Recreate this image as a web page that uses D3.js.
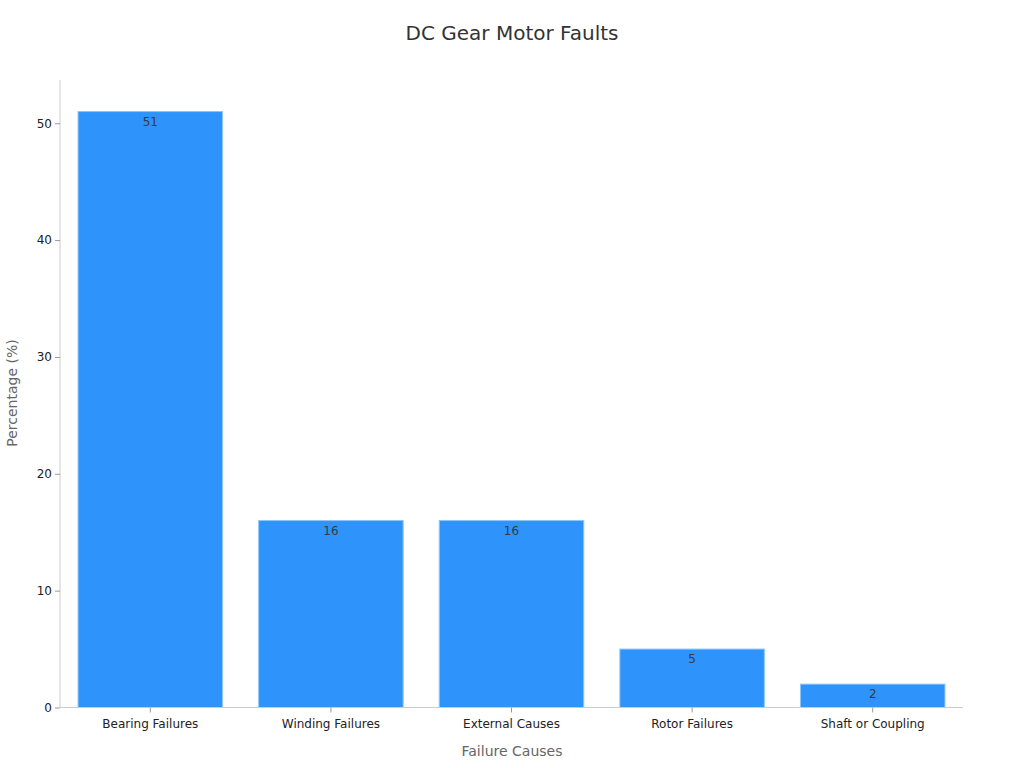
<!DOCTYPE html>
<html><head><meta charset="utf-8">
<script src="https://cdn.jsdelivr.net/npm/d3@7"></script>
<style>body{margin:0;background:#fff;font-family:"DejaVu Sans",sans-serif;}</style>
</head><body><svg id="c" width="1024" height="768"></svg>
<script>
const categories = ["Bearing Failures","Winding Failures","External Causes","Rotor Failures","Shaft or Coupling"];
const values = [51,16,16,5,2];
const yTicks = [0,10,20,30,40,50];

const svg = d3.select("#c");
const m = {left:60, right:963, top:80, bottom:707.5};
const x = d3.scaleBand().domain(categories).range([m.left,m.right]).paddingInner(0.2).paddingOuter(0.1);
const y = d3.scaleLinear().domain([0,53.7]).range([m.bottom,m.top]);

svg.append("text").attr("x",512).attr("y",40).attr("text-anchor","middle")
  .attr("font-size",20).attr("fill","#333").text("DC Gear Motor Faults");

// bars
svg.selectAll("rect.bar").data(values).join("rect").attr("class","bar")
  .attr("x",(d,i)=>x(categories[i])).attr("width",x.bandwidth())
  .attr("y",d=>y(d)).attr("height",d=>y(0)-y(d))
  .attr("fill","#2E93FA").attr("stroke","#8cc4fb").attr("stroke-width",1);

svg.selectAll("text.val").data(values).join("text").attr("class","val")
  .attr("x",(d,i)=>x(categories[i])+x.bandwidth()/2).attr("y",d=>y(d)+14)
  .attr("text-anchor","middle").attr("font-size",12).attr("fill","#3a3a3a").text(d=>d);

// y axis
const ya = svg.append("g").attr("transform",`translate(${m.left},0)`)
  .call(d3.axisLeft(y).tickValues(yTicks).tickSize(5).tickPadding(3));
ya.select(".domain").attr("stroke","#ccc").attr("d",`M0,${m.bottom}V${m.top}`);
ya.selectAll(".tick line").attr("stroke","#999");
ya.selectAll(".tick text").attr("font-size",12).attr("fill","#222").attr("font-family","DejaVu Sans");

// x axis
const xa = svg.append("g").attr("transform",`translate(0,${m.bottom})`)
  .call(d3.axisBottom(x).tickSize(5).tickPadding(7));
xa.select(".domain").attr("stroke","#ccc").attr("d",`M${m.left},0H${m.right}`);
xa.selectAll(".tick line").attr("stroke","#999");
xa.selectAll(".tick text").attr("font-size",12).attr("fill","#222").attr("font-family","DejaVu Sans");

svg.append("text").attr("x",512).attr("y",756).attr("text-anchor","middle")
  .attr("font-size",14).attr("fill","#666").text("Failure Causes");
svg.append("text").attr("transform","translate(17,393) rotate(-90)").attr("text-anchor","middle")
  .attr("font-size",14).attr("fill","#666").text("Percentage (%)");
</script></body></html>
